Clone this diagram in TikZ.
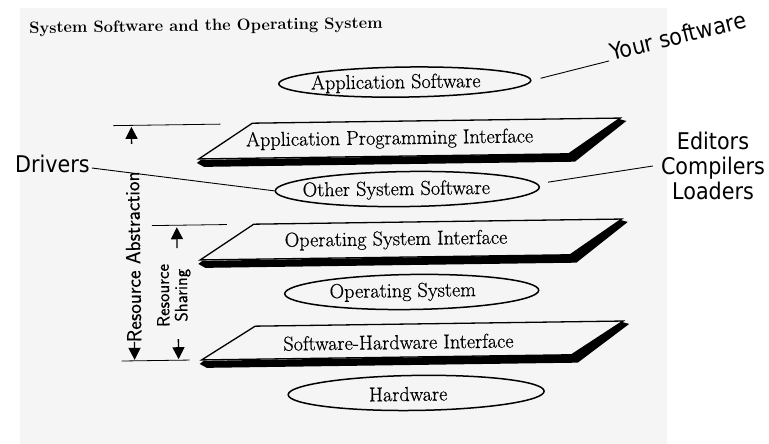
\documentclass[tikz,border=0pt]{standalone}
\usepackage{fontspec}
\newfontfamily\annfont[FakeStretch=0.9]{DejaVu Sans}
\newfontfamily\bodyfont[FakeBold=0.6]{Latin Modern Roman}
\newfontfamily\dimfont[FakeBold=0.4]{Latin Modern Sans}
\usetikzlibrary{shapes.geometric,arrows.meta}
\newcommand\myplane[2]{%
  \draw[planeedge] (254,#1) -- (622,#1) -- (570,#2) -- (200,#2) -- cycle;
  \fill[black] (570,#2) -- (621,{#1+1}) -- (628,{#1+3}) -- (576,{#2+8})
     -- (205,{#2+8}) -- (198,{#2+4}) -- (202,{#2+1}) -- cycle;
}
\begin{document}
\begin{tikzpicture}[x=1pt,y=-1pt,
  planeedge/.style={line width=1.3pt, line join=miter},
  layerell/.style={draw=black, line width=1.5pt, ellipse, inner sep=0pt},
  bodytext/.style={font=\bodyfont\fontsize{20.2}{22}\selectfont, inner sep=0pt},
  sidelabel/.style={font=\annfont\fontsize{23}{25}\selectfont, inner sep=0pt},
  dimtext/.style={font=\dimfont\fontsize{#1}{18}\selectfont, rotate=90, align=center, inner sep=0pt},
  leader/.style={line width=0.9pt},
  dimline/.style={line width=0.8pt},
  dimarrow/.style={line width=1.3pt, -{Triangle[length=12pt,width=12pt]}}]
\useasboundingbox (0,0) rectangle (769,444);
\fill[black!4] (20,8) rectangle (667,444);

\begin{scope}[rotate around={0.8:(410,240)}, transform shape]
  \node[font=\bfseries\fontsize{16.4}{18}\selectfont, inner sep=0pt, anchor=base west] (title) at (32,28) {System Software and the Operating System};

  % planes
  \myplane{121}{156}
  \myplane{222}{257}
  \myplane{324}{357}
  \node[bodytext] (api) at (391,139) {Application Programming Interface};
  \node[bodytext] (osi) at (396,240) {Operating System Interface};
  \node[bodytext] (shi) at (397,342) {Software-Hardware Interface};

  % ellipses
  \node[layerell, minimum width=252pt, minimum height=30pt] (app) at (407,82) {};
  \node[layerell, minimum width=264pt, minimum height=35pt] (oss) at (408,189) {};
  \node[layerell, minimum width=254pt, minimum height=35pt] (os) at (411,292) {};
  \node[layerell, minimum width=256pt, minimum height=35pt] (hw) at (414,393) {};
  \node[bodytext] (apptxt) at (398,83) {Application Software};
  \node[bodytext] (osstxt) at (397,190) {Other System Software};
  \node[bodytext] (ostxt) at (402,292) {Operating System};
  \node[bodytext] (hwtxt) at (406,394) {Hardware};

  % dimension lines
  \coordinate (absL) at (115,121.5); \coordinate (absR) at (222,121.5);
  \coordinate (shL) at (152,222); \coordinate (shR) at (227,222);
  \coordinate (botL) at (120,357); \coordinate (botR) at (188,357);
  \draw[dimline] (absL) -- (absR);
  \draw[dimline] (shL) -- (shR);
  \draw[dimline] (botL) -- (botR);
  \coordinate (a1s) at (133,140); \coordinate (a1e) at (133,123);
  \coordinate (a2s) at (133,338); \coordinate (a2e) at (133,356);
  \coordinate (s1s) at (177,245); \coordinate (s1e) at (177,224);
  \coordinate (s2s) at (177,336); \coordinate (s2e) at (177,356);
  \draw[dimarrow] (a1s) -- (a1e);
  \draw[dimarrow] (a2s) -- (a2e);
  \draw[dimarrow] (s1s) -- (s1e);
  \draw[dimarrow] (s2s) -- (s2e);
  \node[dimtext=20.5] (abstxt) at (133,253) {Resource Abstraction};
  \node[dimtext=18] (shtxt) at (173,292) {Resource\\Sharing};
\end{scope}

% annotations
\node[sidelabel, anchor=base west] (drv) at (15,172) {Drivers};
\node[sidelabel, anchor=base, rotate=14] (ysw) at (680,44) {Your software};
\node[sidelabel, align=center] (edit) at (713,166) {Editors\\Compilers\\Loaders};
\draw[leader] ([xshift=2pt,yshift=4pt]drv.base east) -- (oss.west);
\draw[leader] ([xshift=9pt,yshift=2pt]app.east) -- ([xshift=-3pt]ysw.base west);
\draw[leader] ([xshift=8pt,yshift=5pt]oss.east) -- ([xshift=-8pt]edit.west);
\end{tikzpicture}
\end{document}
